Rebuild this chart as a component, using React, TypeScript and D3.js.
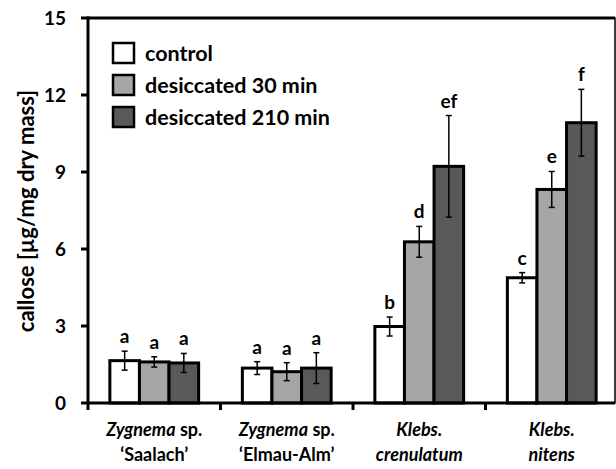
import React from 'react';
import * as d3 from 'd3';

const categories = ['Zygnema sp. Saalach', 'Zygnema sp. Elmau-Alm', 'Klebs. crenulatum', 'Klebs. nitens'];
const series = ['control', 'desiccated 30 min', 'desiccated 210 min'];
const colors = ['#ffffff', '#a6a6a6', '#595959'];
const means = [
  [1.65, 1.6, 1.56],
  [1.36, 1.22, 1.36],
  [2.98, 6.28, 9.22],
  [4.88, 8.32, 10.92],
];
const errors = [
  [0.37, 0.2, 0.37],
  [0.25, 0.35, 0.6],
  [0.37, 0.6, 1.98],
  [0.2, 0.7, 1.3],
];
const letters = [
  ['a', 'a', 'a'],
  ['a', 'a', 'a'],
  ['b', 'd', 'ef'],
  ['c', 'e', 'f'],
];
const yTicks = [0, 3, 6, 9, 12, 15];

const font = 'Lato, "Open Sans", sans-serif';

export default function App() {
  const width = 616, height = 469;
  const left = 88, right = 618, top = 18, bottom = 403;

  const y = d3.scaleLinear().domain([0, 15]).range([bottom, top]);
  const x0 = d3.scaleBand().domain(categories).range([left, right]).padding(0);
  const groupW = x0.bandwidth() * 0.67;
  const x1 = d3.scaleBand().domain(series).range([0, groupW]);

  return (
    <svg width={width} height={height} style={{ position: 'absolute', left: 0, top: 0, background: '#fff' }}
      fontFamily={font} fontWeight="bold">
      {/* frame */}
      <rect x={left} y={top} width={615 - left} height={bottom - top} fill="none" stroke="#000" strokeWidth={1.5} />
      <line x1={left} x2={615} y1={top} y2={top} stroke="#000" strokeWidth={3} />

      {/* bars */}
      {categories.map((c, i) => {
        const gx = (x0(c) as number) + (x0.bandwidth() - groupW) / 2;
        return (
          <g key={c}>
            {series.map((s, j) => {
              const bx = gx + (x1(s) as number);
              const cx = bx + x1.bandwidth() / 2;
              const v = means[i][j];
              const e = errors[i][j];
              return (
                <g key={s}>
                  <rect x={bx} y={y(v)} width={x1.bandwidth()} height={y(0) - y(v)}
                    fill={colors[j]} stroke="#000" strokeWidth={3} />
                  <line x1={cx} x2={cx} y1={y(v + e)} y2={y(v - e)} stroke="#000" strokeWidth={1.5} />
                  <line x1={cx - 3} x2={cx + 3} y1={y(v + e)} y2={y(v + e)} stroke="#000" strokeWidth={1.5} />
                  <line x1={cx - 3} x2={cx + 3} y1={y(v - e)} y2={y(v - e)} stroke="#000" strokeWidth={1.5} />
                  <text x={cx} y={y(v + e) - 8} textAnchor="middle" fontSize={19}>{letters[i][j]}</text>
                </g>
              );
            })}
          </g>
        );
      })}

      {/* y axis */}
      <line x1={left} x2={left} y1={top - 1.5} y2={bottom + 7} stroke="#000" strokeWidth={3} />
      {yTicks.map(t => (
        <g key={t}>
          <line x1={left - 7} x2={left} y1={y(t)} y2={y(t)} stroke="#000" strokeWidth={3} />
          <text x={66} y={y(t)} dy="0.35em" textAnchor="end" fontSize={19}>{t}</text>
        </g>
      ))}
      <text transform={`translate(34,211) rotate(-90)`} textAnchor="middle" fontSize={22}>
        callose [µg/mg dry mass]
      </text>

      {/* x axis */}
      <line x1={left} x2={615} y1={bottom} y2={bottom} stroke="#000" strokeWidth={3} />
      {categories.slice(1).map(c => (
        <line key={c} x1={x0(c)} x2={x0(c)} y1={bottom} y2={bottom + 7} stroke="#000" strokeWidth={3} />
      ))}
      {categories.map((c, i) => {
        const cx = (x0(c) as number) + x0.bandwidth() / 2;
        return (
          <text key={c} x={cx} textAnchor="middle" fontSize={18}>
            {i < 2 ? (
              <>
                <tspan x={cx} y={436}><tspan fontStyle="italic">Zygnema</tspan> sp.</tspan>
                <tspan x={cx} y={461}>{i === 0 ? '‘Saalach’' : '‘Elmau-Alm’'}</tspan>
              </>
            ) : (
              <>
                <tspan x={cx} y={436} fontStyle="italic">Klebs.</tspan>
                <tspan x={cx} y={461} fontStyle="italic">{i === 2 ? 'crenulatum' : 'nitens'}</tspan>
              </>
            )}
          </text>
        );
      })}

      {/* legend */}
      {series.map((s, j) => (
        <g key={s} transform={`translate(113,${43 + j * 32})`}>
          <rect width={21} height={20} fill={colors[j]} stroke="#000" strokeWidth={2.5} />
          <text x={32} y={10} dy="0.35em" fontSize={21.5}>{s}</text>
        </g>
      ))}
    </svg>
  );
}
